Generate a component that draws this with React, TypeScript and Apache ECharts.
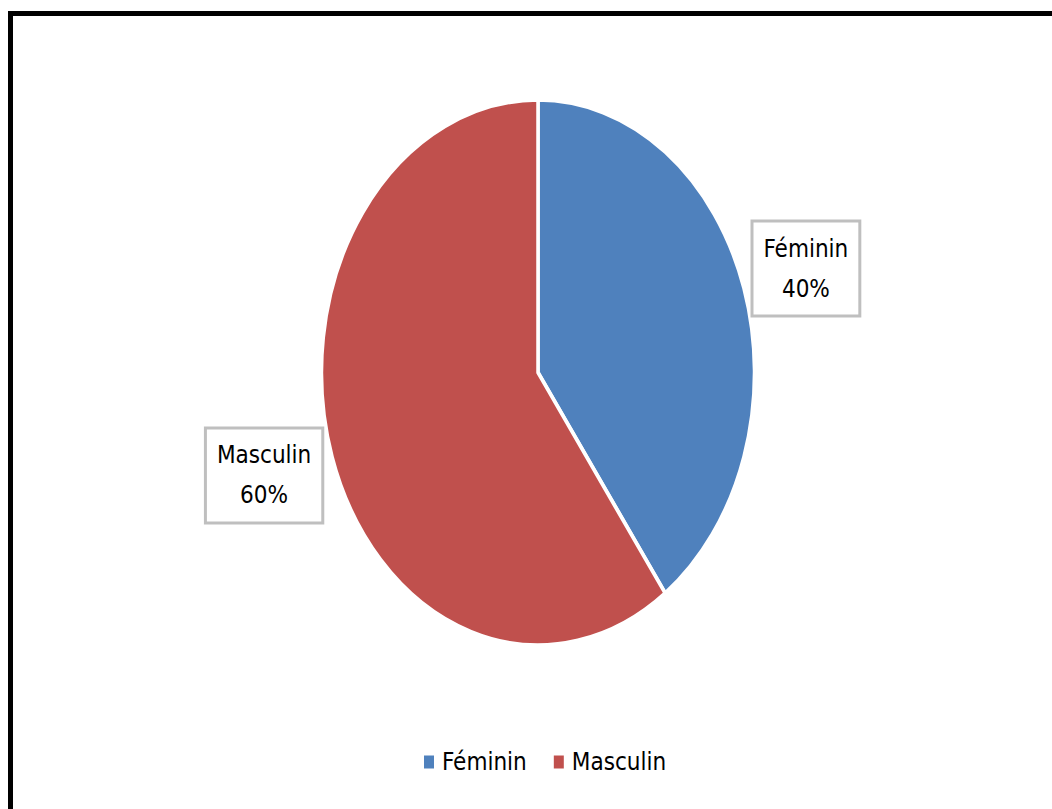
import React, { useEffect, useRef } from "react";
import * as echarts from "echarts";

const categories = ["Féminin", "Masculin"];
const values = [40, 60];
const colors = ["#4F81BD", "#C0504D"];

const W = 1052;
const H = 809;
const CX = 538;
const CY = 372.5;
const RX = 216.5;
const STRETCH = 271 / 215;
const FONT = "'DejaVu Sans Condensed', 'Liberation Sans Narrow', sans-serif";

export default function App() {
  const pieRef = useRef<HTMLDivElement>(null);
  const mainRef = useRef<HTMLDivElement>(null);

  useEffect(() => {
    document.body.style.margin = "0";
    const pie = echarts.init(pieRef.current!, null, { renderer: "svg" });
    pie.setOption({
      animation: false,
      series: [
        {
          type: "pie",
          center: [CX, CY],
          radius: [0, RX],
          startAngle: 90,
          clockwise: true,
          silent: true,
          label: { show: false },
          labelLine: { show: false },
          itemStyle: { borderColor: "#ffffff", borderWidth: 3.5 },
          data: categories.map((c, i) => ({ name: c, value: values[i], itemStyle: { color: colors[i] } })),
        },
      ],
    });

    const main = echarts.init(mainRef.current!, null, { renderer: "svg" });
    const shifts = [
      [-6, -15],
      [0, 14],
    ];
    main.setOption({
      animation: false,
      backgroundColor: "transparent",
      graphic: [
        {
          type: "rect",
          shape: { x: 10.5, y: 13.5, width: 1200, height: 1000 },
          style: { fill: "none", stroke: "#000", lineWidth: 5 },
          silent: true,
        },
      ],
      legend: {
        left: 419,
        top: 745,
        itemWidth: 10,
        itemHeight: 13,
        itemGap: 27,
        icon: "rect",
        selectedMode: false,
        textStyle: { fontFamily: FONT, fontSize: 24, color: "#000", padding: [0, 0, 0, 3] },
        data: categories.map((c, i) => ({ name: c, itemStyle: { color: colors[i], opacity: 1 } })),
      },
      series: [
        {
          type: "pie",
          center: [CX, CY],
          radius: [284, 286],
          startAngle: 90,
          clockwise: true,
          silent: true,
          percentPrecision: 0,
          itemStyle: { color: "rgba(0,0,0,0)", borderWidth: 0 },
          emphasis: { disabled: true },
          label: {
            show: true,
            position: "inner",
            formatter: "{b}\n{d}%",
            fontFamily: FONT,
            fontSize: 24,
            lineHeight: 40,
            color: "#000",
            backgroundColor: "#fff",
            borderColor: "#bfbfbf",
            borderWidth: 3,
            padding: [6, 10, 6, 10],
            align: "center",
          },
          labelLine: { show: false },
          labelLayout: (p: any) => ({ dx: shifts[p.dataIndex][0], dy: shifts[p.dataIndex][1] }),
          data: categories.map((c, i) => ({ name: c, value: values[i] })),
        },
      ],
    });

    return () => {
      pie.dispose();
      main.dispose();
    };
  }, []);

  return (
    <div style={{ position: "fixed", left: 0, top: 0, width: W, height: H, background: "#fff", overflow: "hidden" }}>
      <div
        ref={pieRef}
        style={{
          position: "absolute",
          left: 0,
          top: 0,
          width: W,
          height: H,
          transform: `scaleY(${STRETCH})`,
          transformOrigin: `${CX}px ${CY}px`,
        }}
      />
      <div ref={mainRef} style={{ position: "absolute", left: 0, top: 0, width: W, height: H }} />
    </div>
  );
}
